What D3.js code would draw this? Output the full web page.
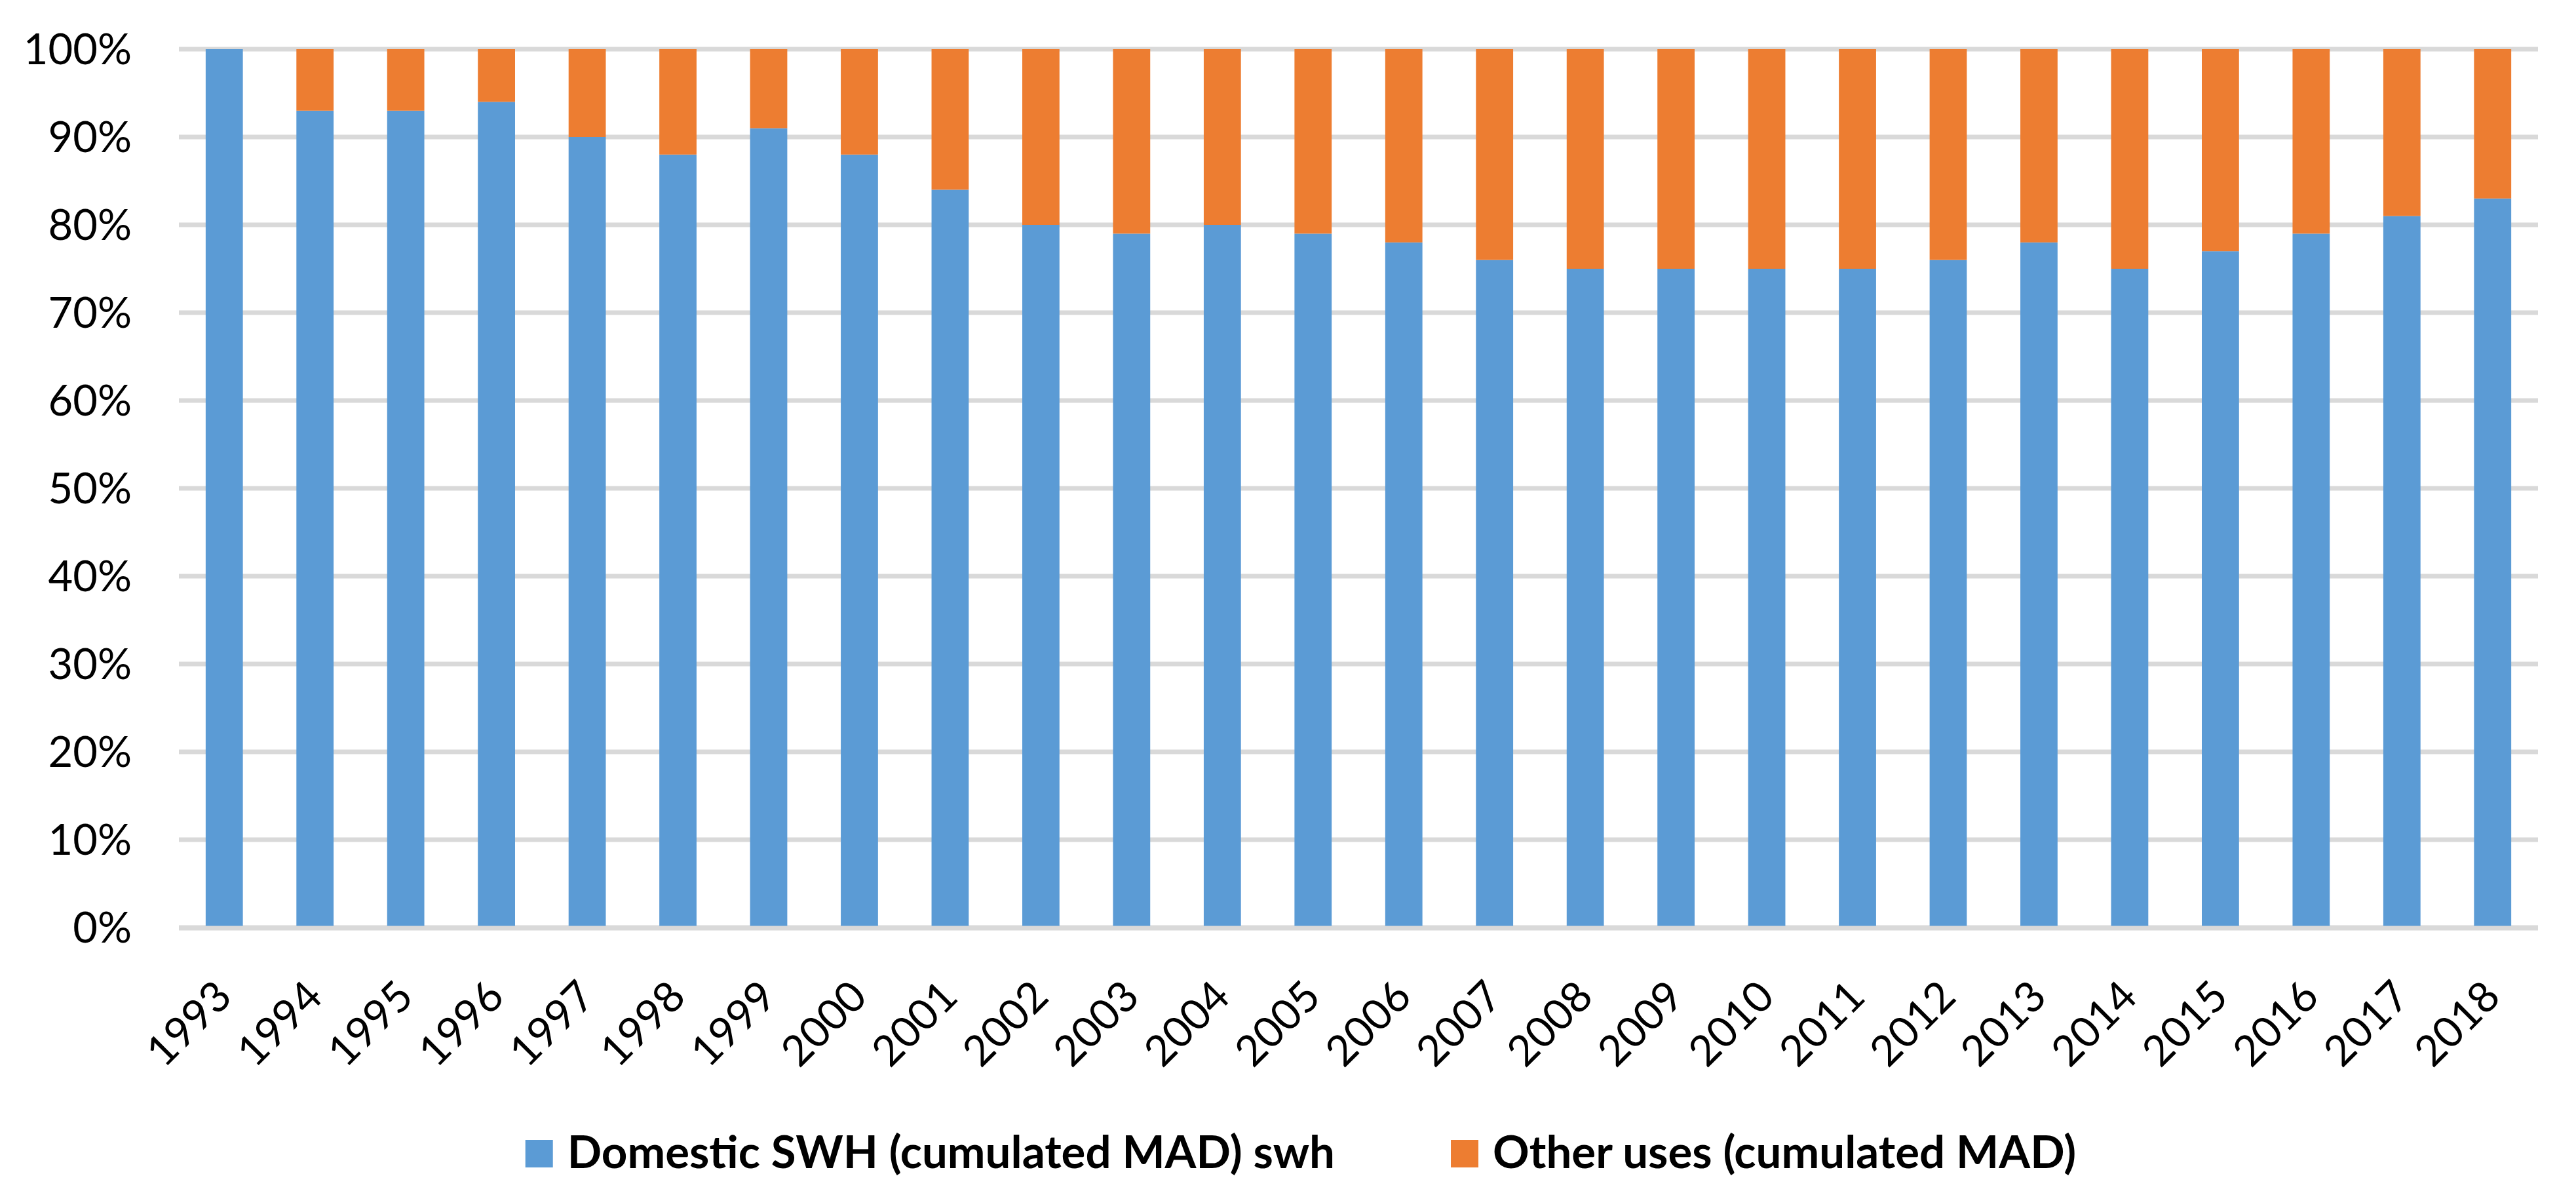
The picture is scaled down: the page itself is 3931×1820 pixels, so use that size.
<!DOCTYPE html>
<html>
<head>
<meta charset="utf-8">
<script src="https://cdn.jsdelivr.net/npm/d3@7"></script>
<style>
  body { margin: 0; background: #fff; }
  text { font-family: Lato, "Open Sans", sans-serif; fill: #000; }
</style>
</head>
<body>
<script>
const years = ['1993', '1994', '1995', '1996', '1997', '1998', '1999', '2000', '2001',
  '2002', '2003', '2004', '2005', '2006', '2007', '2008', '2009', '2010', '2011',
  '2012', '2013', '2014', '2015', '2016', '2017', '2018'];
// share of domestic SWH, percent
const domestic = [100, 93, 93, 94, 90, 88, 91, 88, 84, 80, 79, 80, 79, 78, 76, 75,
  75, 75, 75, 76, 78, 75, 77, 79, 81, 83];
const other = domestic.map(d => 100 - d);
const seriesNames = ['Domestic SWH (cumulated MAD) swh', 'Other uses (cumulated MAD)'];
const colors = ['#5B9BD5', '#ED7D31'];
const yTicks = [0, 10, 20, 30, 40, 50, 60, 70, 80, 90, 100];

const width = 3931,
  height = 1820;

const svg = d3
  .select('body')
  .append('svg')
  .attr('width', width)
  .attr('height', height);

const x = d3.scaleBand().domain(years).range([273, 3873]).paddingInner(0.59).paddingOuter(0.295);
const y = d3.scaleLinear().domain([0, 100]).range([1415, 75]);

// gridlines
svg.append('g')
  .selectAll('line')
  .data(yTicks)
  .enter()
  .append('line')
  .attr('x1', 273)
  .attr('x2', 3873)
  .attr('y1', d => y(d))
  .attr('y2', d => y(d))
  .style('stroke', '#d9d9d9')
  .style('stroke-width', 7);

// y labels
svg.append('g')
  .selectAll('text')
  .data(yTicks)
  .enter()
  .append('text')
  .attr('x', 201)
  .attr('y', d => y(d) + 23)
  .attr('text-anchor', 'end')
  .style('font-size', '65px')
  .text(d => d + '%');

const rows = years.map((yr, i) => ({ year: yr, domestic: domestic[i], other: other[i] }));
const stacked = d3.stack().keys(['domestic', 'other'])(rows);

svg.append('g')
  .selectAll('g')
  .data(stacked)
  .enter()
  .append('g')
  .style('fill', (d, i) => colors[i])
  .selectAll('rect')
  .data(d => d)
  .enter()
  .append('rect')
  .attr('x', d => x(d.data.year))
  .attr('width', x.bandwidth())
  .attr('y', d => y(d[1]))
  .attr('height', d => y(d[0]) - y(d[1]));

// baseline redrawn over bars
svg.append('line')
  .attr('x1', 273)
  .attr('x2', 3873)
  .attr('y1', y(0) + 1)
  .attr('y2', y(0) + 1)
  .style('stroke', '#d9d9d9')
  .style('stroke-width', 7);

// x labels, rotated
svg.append('g')
  .selectAll('text')
  .data(years)
  .enter()
  .append('text')
  .attr('transform', d => `translate(${x(d) + x.bandwidth() / 2 + 15},1524) rotate(-45)`)
  .attr('text-anchor', 'end')
  .style('font-size', '65px')
  .text(d => d);

// legend
const legend = svg.append('g');
const items = legend
  .selectAll('g')
  .data(seriesNames)
  .enter()
  .append('g');
items.append('rect')
  .attr('width', 42)
  .attr('height', 42)
  .attr('y', 1739)
  .style('fill', (d, i) => colors[i]);
items.append('text')
  .attr('x', 64)
  .attr('y', 1782)
  .style('font-size', '69px')
  .style('font-weight', 'bold')
  .text(d => d);

let pos = 0;
const starts = [];
items.each(function () {
  starts.push(pos);
  const w = 64 + d3.select(this).select('text').node().getComputedTextLength();
  pos += w + 177;
});
const total = pos - 177;
const left = 1985 - total / 2;
items.attr('transform', (d, i) => `translate(${left + starts[i]},0)`);
</script>
</body>
</html>
